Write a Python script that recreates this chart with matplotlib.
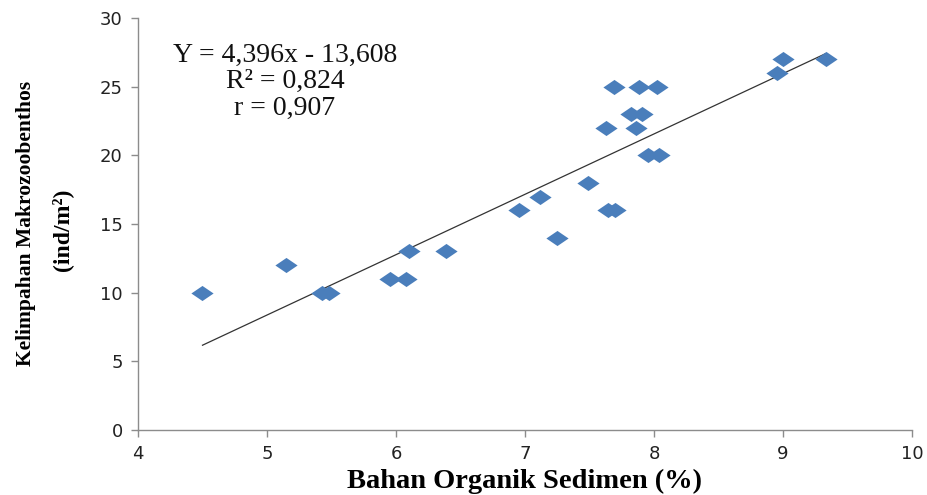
import matplotlib
matplotlib.use("Agg")
from matplotlib import pyplot as plt
import numpy as np

# bahan organik sedimen (%) vs kelimpahan makrozoobenthos (ind/m2)
bahan_organik = [4.50, 5.15, 5.43, 5.48, 5.95, 6.08, 6.10, 6.39, 6.95, 7.12, 7.25,
                 7.49, 7.64, 7.70, 7.63, 7.69, 7.82, 7.91, 7.86, 7.88, 8.02, 7.95,
                 8.04, 8.95, 9.00, 9.33]
kelimpahan = [10, 12, 10, 10, 11, 11, 13, 13, 16, 17, 14,
              18, 16, 16, 22, 25, 23, 23, 22, 25, 25, 20,
              20, 26, 27, 27]

slope = 4.396
intercept = -13.608
eq_lines = ["Y = 4,396x - 13,608", "R² = 0,824", "r = 0,907"]

x_ticks = [4, 5, 6, 7, 8, 9, 10]
y_ticks = [0, 5, 10, 15, 20, 25, 30]

fig = plt.figure(figsize=(9.28, 4.95), dpi=100)
ax = fig.add_axes([0.1487, 0.1313, 0.8341, 0.8323])

# wide diamond (the original picture is stretched sideways)
diamond = [(-1, 0), (0, 0.68), (1, 0), (0, -0.68), (-1, 0)]
ax.plot(bahan_organik, kelimpahan, linestyle="none", marker=diamond,
        markersize=16, color="#4a7ebb", markeredgewidth=0, zorder=3)

xs = np.array([min(bahan_organik), max(bahan_organik)])
ax.plot(xs, slope * xs + intercept, color="#333333", linewidth=0.9, zorder=2)

ax.set_xlim(4, 10)
ax.set_ylim(0, 30)
ax.set_xticks(x_ticks)
ax.set_yticks(y_ticks)

for side in ["top", "right"]:
    ax.spines[side].set_visible(False)
for side in ["left", "bottom"]:
    ax.spines[side].set_color("#8c8c8c")
    ax.spines[side].set_linewidth(1.0)
ax.tick_params(direction="out", length=5, width=1.0, color="#8c8c8c",
               labelsize=13, labelcolor="#222222", pad=6)

ax.text(0.19, 0.94, "\n".join(eq_lines), transform=ax.transAxes,
        ha="center", va="top", family="Liberation Serif", fontsize=20,
        linespacing=1.08, color="#111111")

fig.text(0.565, 0.002, "Bahan Organik Sedimen (%)", ha="center", va="bottom",
         family="Liberation Serif", fontweight="bold", fontsize=20.5)
fig.text(0.028, 0.548, "Kelimpahan Makrozoobenthos", rotation=90,
         ha="center", va="center", family="Liberation Serif",
         fontweight="bold", fontsize=15.5)
fig.text(0.067, 0.535, "(ind/m²)", rotation=90, ha="center", va="center",
         family="Liberation Serif", fontweight="bold", fontsize=17)

fig.savefig("out.png", dpi=100)
